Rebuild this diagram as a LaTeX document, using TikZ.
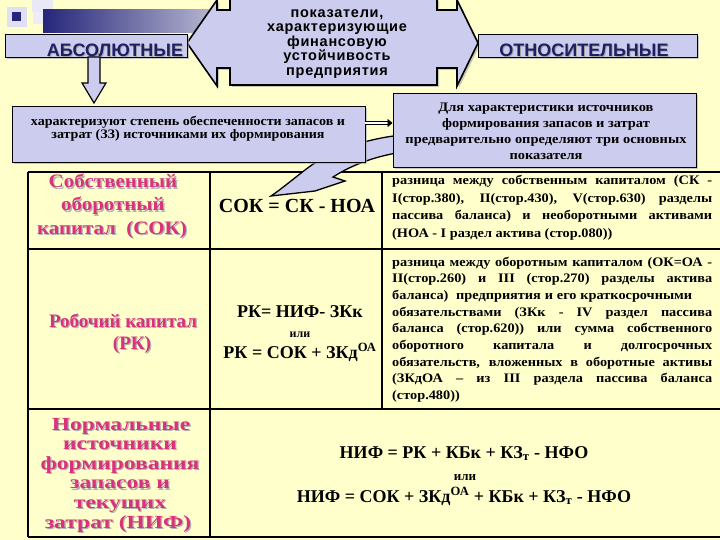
\documentclass[tikz,border=0pt]{standalone}
\usepackage{fontspec}
\setmainfont{Liberation Serif}
\newfontfamily\sansf{Liberation Sans}
\usetikzlibrary{arrows.meta,shadows}
\definecolor{bg}{HTML}{FFFFCC}
\definecolor{lav}{HTML}{CCCCEE}
\definecolor{navyt}{HTML}{1F1F66}
\definecolor{barnavy}{HTML}{26267A}
\definecolor{pinkt}{HTML}{D8327C}
\newcommand\fs[2]{\fontsize{#1}{#2}\selectfont}
\newcommand\jline[3]{\node[rtxt] (#1) at (392,#2) {\makebox[320pt][s]{#3}};}
\newcommand\lline[3]{\node[rtxt] (#1) at (392,#2) {#3};}
\newcommand\ptext[6]{%
  \node[anchor=base, inner sep=0, font=\rmfamily\bfseries\fs{#4}{#4}\addfontfeature{FakeStretch=#5}, text=black!30] (#1s) at (#2+1.3,#3+1.3) {#6};
  \node[anchor=base, inner sep=0, font=\rmfamily\bfseries\fs{#4}{#4}\addfontfeature{FakeStretch=#5}, text=pinkt] (#1) at (#2,#3) {#6};}
\begin{document}
\begin{tikzpicture}[x=1pt,y=-1pt,
  box/.style={fill=lav, draw=black, line width=0.9pt, inner sep=0,
    drop shadow={shadow xshift=2pt, shadow yshift=-2pt, fill=black!35, opacity=0.6}},
  tbl/.style={draw=black, line width=1.1pt},
  rtxt/.style={anchor=base west, inner sep=0, font=\rmfamily\bfseries\fs{13}{14}\addfontfeature{FakeStretch=1.1}},
  btxt/.style={anchor=base, inner sep=0, font=\rmfamily\bfseries\fs{18}{18}},
]
\useasboundingbox (0,0) rectangle (720,540);
\fill[bg] (0,0) rectangle (720,540);
% decoration
\fill[lav!45!white] (32,0) rectangle (53,12);
\fill[lav!35!white] (33,12) rectangle (55,24);
\fill[lav!60!white] (7,7) rectangle (27,27);
\shade[left color=barnavy, right color=lav!75!gray] (43,10) rectangle (217,33);
\fill[barnavy] (12,12) rectangle (21,21);
% table
\draw[tbl] (28,172) -- (720,172);
\draw[tbl] (28,249) -- (720,249);
\draw[tbl] (28,409) -- (720,409);
\draw[tbl] (28,537) -- (720,537);
\draw[tbl] (28,172) -- (28,537);
\draw[tbl] (210,172) -- (210,537);
\draw[tbl] (382,172) -- (382,409);
% curved arrow
\filldraw[fill=lav, draw=black, line width=1.3pt]
  (402,135) .. controls (370,138) and (330,150) .. (305,170)
  .. controls (292,180) and (280,190) .. (271,196) -- (315,191) -- (345,181) -- (333,177)
  .. controls (355,163) and (378,156) .. (402,152) -- cycle;
% top double arrow with box
\filldraw[fill=lav, draw=black, line width=1.6pt,
  drop shadow={shadow xshift=2pt, shadow yshift=-2pt, fill=black!35, opacity=0.6}]
  (230,-1) -- (437,-1) -- (437,10) -- (457,10) -- (457,0) -- (478,43) -- (457,86) -- (457,68)
  -- (437,68) -- (437,85) -- (230,85) -- (230,68) -- (217,68) -- (217,86) -- (187,43)
  -- (217,0) -- (217,10) -- (230,10) -- cycle;
\node[align=center, inner sep=0, font=\sansf\bfseries\fs{14.5}{14.5}\addfontfeature{LetterSpace=5}] (top) at (337,44)
  {показатели,\\характеризующие\\финансовую\\устойчивость\\предприятия};
% side boxes
\node[box, minimum width=182pt, minimum height=23pt] (abs) at (96,45.5) {};
\node[inner sep=0, font=\sansf\bfseries\fs{18}{18}, text=black!35] (abtss) at (116,51) {АБСОЛЮТНЫЕ};
\node[inner sep=0, font=\sansf\bfseries\fs{18}{18}, text=navyt] (abt) at (115,50) {АБСОЛЮТНЫЕ};
\node[box, minimum width=219pt, minimum height=23pt] (otn) at (587.5,45.5) {};
\node[inner sep=0, font=\sansf\bfseries\fs{18}{18}, text=black!35] (otts) at (585,51) {ОТНОСИТЕЛЬНЫЕ};
\node[inner sep=0, font=\sansf\bfseries\fs{18}{18}, text=navyt] (ott) at (584,50) {ОТНОСИТЕЛЬНЫЕ};
% down block arrow
\filldraw[fill=lav, draw=black, line width=1.2pt]
  (88,57) -- (100,57) -- (100,83) -- (106,83) -- (94,103) -- (82,83) -- (88,83) -- cycle;
% second-level boxes
\node[box, minimum width=353pt, minimum height=56pt] (lb) at (188.5,134) {};
\node[align=center, inner sep=0, font=\rmfamily\bfseries\fs{13}{13.5}\addfontfeature{FakeStretch=1.08}] (lbt) at (188,128.5)
  {характеризуют степень обеспеченности запасов и\\затрат (ЗЗ) источниками их формирования};
\node[box, minimum width=303pt, minimum height=74pt] (rb) at (544.5,130) {};
\node[align=center, inner sep=0, font=\rmfamily\bfseries\fs{13}{16}\addfontfeature{FakeStretch=1.11}] (rbt) at (546,131)
  {Для характеристики источников\\формирования запасов и затрат\\предварительно определяют три основных\\показателя};
\draw[double=white, double distance=2pt, line width=0.7pt, -{Triangle[length=5pt,width=8pt]}]
  ([yshift=11pt]lb.east) -- ([yshift=7pt]rb.west);
% left column
\ptext{c1a}{113}{188}{19}{1.1}{Собственный}
\ptext{c1b}{113}{211}{19}{1.1}{оборотный}
\ptext{c1c}{112}{234}{19}{1.1}{капитал\ \ (СОК)}
\ptext{c2a}{123}{327}{19}{1.0}{Робочий капитал}
\ptext{c2b}{132}{349}{19}{1.0}{(РК)}
\ptext{c3a}{121}{430}{18.5}{1.27}{Нормальные}
\ptext{c3b}{120}{449.6}{18.5}{1.27}{источники}
\ptext{c3c}{120}{469.2}{18.5}{1.27}{формирования}
\ptext{c3d}{120}{488.8}{18.5}{1.27}{запасов и}
\ptext{c3e}{120}{508.4}{18.5}{1.27}{текущих}
\ptext{c3f}{118}{528}{18.5}{1.27}{затрат (НИФ)}
% middle column
\node[btxt, font=\rmfamily\bfseries\fs{20}{20}] (m1) at (297,213) {СОК = СК - НОА};
\node[btxt] (m2a) at (300,317) {РК= НИФ- ЗКк};
\node[btxt, font=\rmfamily\bfseries\fs{12}{12}] (m2b) at (300,337) {или};
\node[btxt] (m2c) at (300,358) {РК = СОК + ЗКд\textsuperscript{ОА}};
% row 3 formulas
\node[btxt] (f1) at (464,458) {НИФ = РК + КБк + КЗ\textsubscript{т} - НФО};
\node[btxt, font=\rmfamily\bfseries\fs{13}{13}] (f2) at (465,480) {или};
\node[btxt] (f3) at (464,502) {НИФ = СОК + ЗКд\textsuperscript{ОА} + КБк + КЗ\textsubscript{т} - НФО};
% right column row 1
\jline{ra1}{185}{разница между собственным капиталом (СК -}
\jline{ra2}{202.5}{I(стор.380), II(стор.430), V(стор.630) разделы}
\jline{ra3}{220}{пассива баланса) и необоротными активами}
\lline{ra4}{237.5}{(НОА - I раздел актива (стор.080))}
% right column row 2
\jline{rb1}{266}{разница между оборотным капиталом (ОК=ОА -}
\jline{rb2}{282.5}{II(стор.260) и III (стор.270) разделы актива}
\node[rtxt] (rb3) at (392,299) {\makebox[300pt][s]{баланса)\ \ предприятия и его краткосрочными}};
\jline{rb4}{316}{обязательствами (ЗКк - IV раздел пассива}
\jline{rb5}{332.5}{баланса (стор.620)) или сумма собственного}
\jline{rb6}{349}{оборотного капитала и долгосрочных}
\jline{rb7}{366}{обязательств, вложенных в оборотные активы}
\jline{rb8}{382.5}{(ЗКдОА – из III раздела пассива баланса}
\lline{rb9}{399}{(стор.480))}
\end{tikzpicture}
\end{document}
